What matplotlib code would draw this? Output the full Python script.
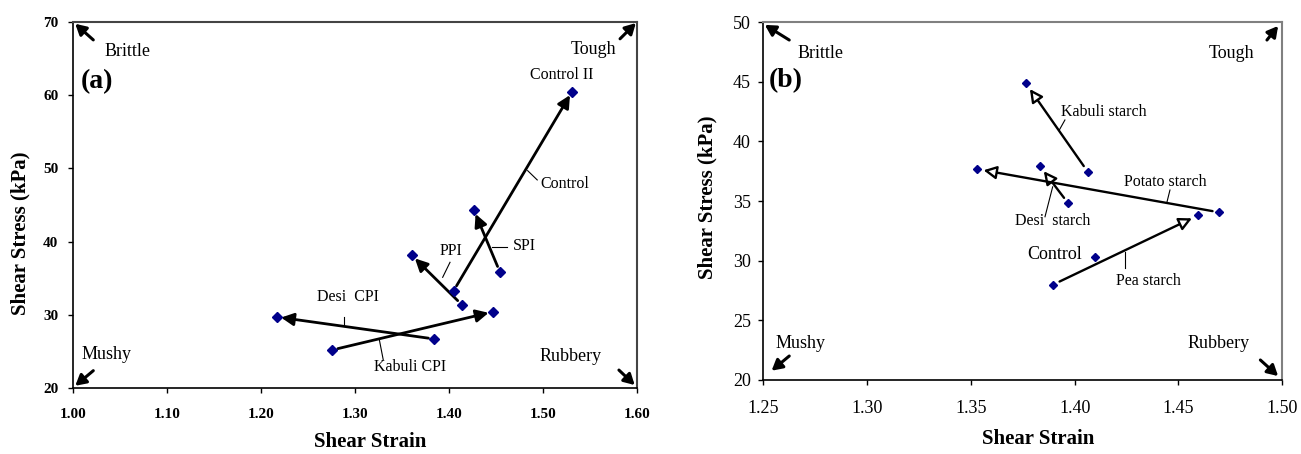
#!/usr/bin/env python3
"""Shear stress vs shear strain maps for protein isolates (a) and starches (b)."""

import matplotlib
matplotlib.use("Agg")
import matplotlib.pyplot as plt

plt.rcParams["font.family"] = ["Liberation Serif", "DejaVu Serif"]

# panel (a): protein isolates, each arrow goes start -> end
a_names = ["Desi  CPI", "Kabuli CPI", "PPI", "SPI", "Control"]
a_start_x = [1.384, 1.276, 1.4135, 1.454, 1.405]
a_start_y = [26.7, 25.2, 31.4, 35.9, 33.3]
a_end_x = [1.217, 1.4465, 1.3606, 1.4266, 1.531]
a_end_y = [29.7, 30.4, 38.1, 44.3, 60.5]

# panel (b): starches
b_names = ["Kabuli starch", "Desi  starch", "Potato starch", "Pea starch"]
b_start_x = [1.4063, 1.3969, 1.4697, 1.3897]
b_start_y = [37.45, 34.8, 34.05, 28.0]
b_end_x = [1.3765, 1.3831, 1.3528, 1.4595]
b_end_y = [44.86, 37.96, 37.68, 33.8]
b_control = (1.4098, 30.33)

a_xticks = [1.00, 1.10, 1.20, 1.30, 1.40, 1.50, 1.60]
a_yticks = [20, 30, 40, 50, 60, 70]
b_xticks = [1.25, 1.30, 1.35, 1.40, 1.45, 1.50]
b_yticks = [20, 25, 30, 35, 40, 45, 50]

MARK = "#00008b"

fig = plt.figure(figsize=(13.01, 4.54), dpi=100)
ax_a = fig.add_axes([0.0561, 0.1454, 0.4335, 0.8062])
ax_b = fig.add_axes([0.5867, 0.1630, 0.3989, 0.7885])


def style_axes(ax, xt, yt, tick_size, bold, ypad, xpad, edge):
    ax.set_xlim(xt[0], xt[-1])
    ax.set_ylim(yt[0], yt[-1])
    ax.set_xticks(xt)
    ax.set_yticks(yt)
    ax.set_xticklabels([f"{v:.2f}" for v in xt])
    ax.set_yticklabels([str(v) for v in yt])
    weight = "bold" if bold else "normal"
    for lab in ax.get_xticklabels() + ax.get_yticklabels():
        lab.set_fontsize(tick_size)
        lab.set_fontweight(weight)
    ax.tick_params(axis="y", direction="out", length=3.5, width=1, pad=ypad)
    ax.tick_params(axis="x", direction="out", length=3.5, width=1, pad=xpad)
    ax.spines["left"].set_linewidth(1.2)
    ax.spines["bottom"].set_linewidth(1.2)
    for s in ("top", "right"):
        ax.spines[s].set_color(edge)
        ax.spines[s].set_linewidth(1.5)


style_axes(ax_a, a_xticks, a_yticks, 11, True, 7, 11, "#444444")
style_axes(ax_b, b_xticks, b_yticks, 13, False, 5.5, 11, "#808080")


def corner_arrow(ax, xy_from, xy_to):
    ax.annotate("", xy=xy_to, xytext=xy_from, xycoords="axes fraction",
                arrowprops=dict(arrowstyle="-|>,head_length=0.45,head_width=0.25",
                                color="black", lw=2.2, mutation_scale=14,
                                shrinkA=0, shrinkB=0))


# ---- panel (a)
for sx, sy, ex, ey in zip(a_start_x, a_start_y, a_end_x, a_end_y):
    ax_a.annotate("", xy=(ex, ey), xytext=(sx, sy),
                  arrowprops=dict(arrowstyle="-|>,head_length=0.5,head_width=0.25",
                                  color="black", lw=2.0, mutation_scale=15,
                                  shrinkA=4, shrinkB=3))
ax_a.plot(a_start_x + a_end_x, a_start_y + a_end_y, "D", color=MARK, ms=4.8,
          ls="none", zorder=5, clip_on=False)

lab = 11.5
ax_a.text(1.5199, 62.7, "Control II", fontsize=lab, ha="center", va="center")
ax_a.text(1.4976, 47.9, "Control", fontsize=lab, ha="left", va="center")
ax_a.plot([1.4837, 1.4939], [49.69, 48.42], color="black", lw=0.8)
ax_a.text(1.468, 39.4, "SPI", fontsize=lab, ha="left", va="center")
ax_a.plot([1.446, 1.4614], [39.22, 39.22], color="black", lw=0.8)
ax_a.text(1.4018, 38.7, "PPI", fontsize=lab, ha="center", va="center")
ax_a.plot([1.3933, 1.4011], [35.12, 37.17], color="black", lw=0.8)
ax_a.text(1.2593, 32.4, "Desi  CPI", fontsize=lab, ha="left", va="center")
ax_a.plot([1.2883, 1.2883], [28.42, 29.75], color="black", lw=0.8)
ax_a.text(1.3585, 22.8, "Kabuli CPI", fontsize=lab, ha="center", va="center")
ax_a.plot([1.3259, 1.3301], [26.6, 23.83], color="black", lw=0.8)

ax_a.text(0.0555, 0.919, "Brittle", transform=ax_a.transAxes, fontsize=13, va="center")
ax_a.text(0.964, 0.926, "Tough", transform=ax_a.transAxes, fontsize=13, va="center", ha="right")
ax_a.text(0.0154, 0.092, "Mushy", transform=ax_a.transAxes, fontsize=13, va="center")
ax_a.text(0.828, 0.087, "Rubbery", transform=ax_a.transAxes, fontsize=13, va="center")
ax_a.text(0.0142, 0.837, "(a)", transform=ax_a.transAxes, fontsize=20,
          fontweight="bold", va="center")
corner_arrow(ax_a, (0.036, 0.951), (0.004, 0.995))
corner_arrow(ax_a, (0.036, 0.0473), (0.004, 0.006))
corner_arrow(ax_a, (0.97, 0.954), (0.998, 0.997))
corner_arrow(ax_a, (0.968, 0.049), (0.996, 0.008))

# ---- panel (b)
for sx, sy, ex, ey in zip(b_start_x, b_start_y, b_end_x, b_end_y):
    ax_b.annotate("", xy=(ex, ey), xytext=(sx, sy),
                  arrowprops=dict(arrowstyle="-|>,head_length=0.55,head_width=0.28",
                                  fc="white", ec="black", lw=1.7, mutation_scale=14,
                                  shrinkA=5, shrinkB=5))
ax_b.plot(b_start_x + b_end_x + [b_control[0]], b_start_y + b_end_y + [b_control[1]],
          "D", color=MARK, ms=4.2, ls="none", zorder=5)

ax_b.text(1.3934, 42.5, "Kabuli starch", fontsize=lab, ha="left", va="center")
ax_b.plot([1.3926, 1.3953], [40.95, 41.79], color="black", lw=0.8)
ax_b.text(1.4438, 36.6, "Potato starch", fontsize=lab, ha="center", va="center")
ax_b.plot([1.4443, 1.4459], [34.8, 35.92], color="black", lw=0.8)
ax_b.text(1.3894, 33.3, "Desi  starch", fontsize=lab, ha="center", va="center")
ax_b.plot([1.3857, 1.3894], [33.68, 36.19], color="black", lw=0.8)
ax_b.text(1.4034, 30.5, "Control", fontsize=13, ha="right", va="center")
ax_b.text(1.4355, 28.3, "Pea starch", fontsize=lab, ha="center", va="center")
ax_b.plot([1.4242, 1.4242], [29.36, 30.75], color="black", lw=0.8)

ax_b.text(0.0655, 0.913, "Brittle", transform=ax_b.transAxes, fontsize=13, va="center")
ax_b.text(0.947, 0.913, "Tough", transform=ax_b.transAxes, fontsize=13, va="center", ha="right")
ax_b.text(0.0245, 0.1025, "Mushy", transform=ax_b.transAxes, fontsize=13, va="center")
ax_b.text(0.817, 0.1025, "Rubbery", transform=ax_b.transAxes, fontsize=13, va="center")
ax_b.text(0.0096, 0.835, "(b)", transform=ax_b.transAxes, fontsize=20,
          fontweight="bold", va="center")
corner_arrow(ax_b, (0.050, 0.9497), (0.003, 0.992))
corner_arrow(ax_b, (0.050, 0.067), (0.016, 0.026))
corner_arrow(ax_b, (0.9705, 0.9497), (0.992, 0.989))
corner_arrow(ax_b, (0.9578, 0.0559), (0.992, 0.011))

# axis titles placed by hand, as in the source figure
fig.text(0.2844, 0.026, "Shear Strain", fontsize=15, fontweight="bold", ha="center", va="center")
fig.text(0.0154, 0.487, "Shear Stress (kPa)", fontsize=15, fontweight="bold",
         ha="center", va="center", rotation=90)
fig.text(0.7978, 0.033, "Shear Strain", fontsize=15, fontweight="bold", ha="center", va="center")
fig.text(0.5437, 0.565, "Shear Stress (kPa)", fontsize=15, fontweight="bold",
         ha="center", va="center", rotation=90)

fig.savefig("out.png", dpi=100)
